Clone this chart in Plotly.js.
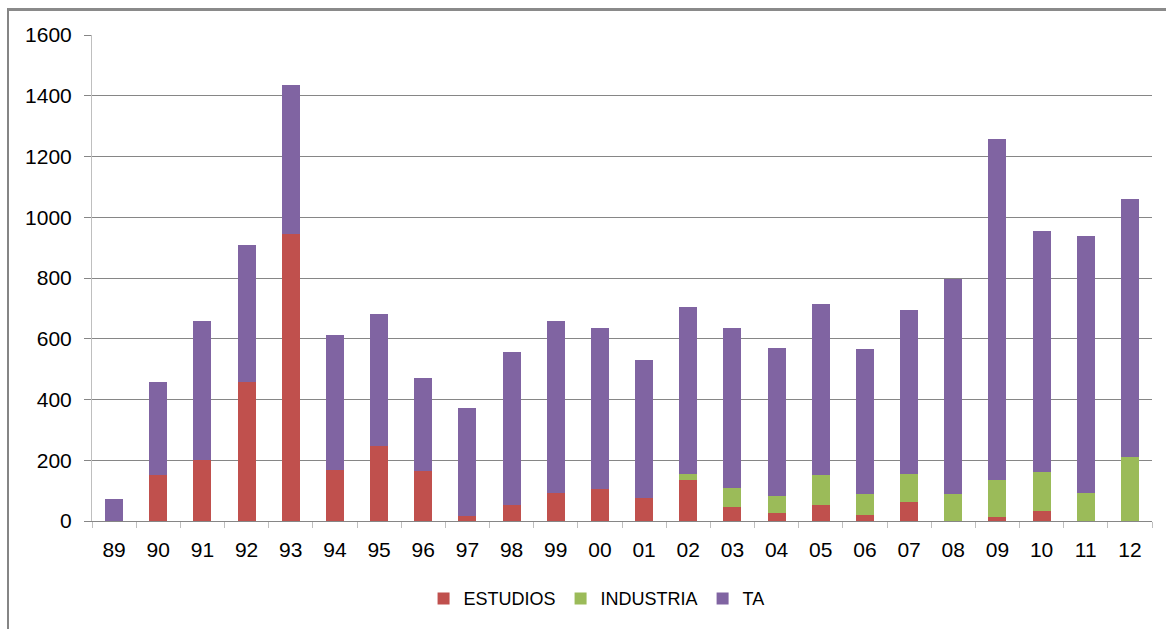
<!DOCTYPE html>
<html>
<head>
<meta charset="utf-8">
<script src="https://cdn.plot.ly/plotly-3.0.1.min.js"></script>
<style>
  html, body { margin: 0; padding: 0; background: #fff; overflow: hidden; }
  #wrap { position: relative; width: 1166px; height: 629px; }
  #chart { width: 1166px; height: 629px; }
  #frame { position: absolute; left: 7px; top: 8px; width: 2000px; height: 2000px;
           border-left: 2px solid #858585; border-top: 3px solid #8a8a8a; pointer-events: none; }
</style>
</head>
<body>
<div id="wrap">
  <div id="chart"></div>
  <div id="frame"></div>
</div>
<script>
const years = ['89','90','91','92','93','94','95','96','97','98','99','00','01','02','03','04','05','06','07','08','09','10','11','12'];
const estudios  = [0,150,200,457,944,169,248,163,18,53,93,104,77,136,45,27,53,21,64,0,14,34,0,0];
const industria = [0,0,0,0,0,0,0,0,0,0,0,0,0,20,64,56,99,68,91,89,121,128,93,211];
const ta        = [72,307,457,452,490,442,435,307,353,505,564,530,452,549,525,485,564,476,541,709,1122,793,845,849];

const colors = { estudios: '#C0504D', industria: '#9BBB59', ta: '#8064A2' };

const traces = [
  { type: 'bar', name: 'ESTUDIOS', x: years, y: estudios, marker: { color: colors.estudios } },
  { type: 'bar', name: 'INDUSTRIA', x: years, y: industria, marker: { color: colors.industria } },
  { type: 'bar', name: 'TA', x: years, y: ta, marker: { color: colors.ta } }
];

const layout = {
  width: 1166, height: 629,
  margin: { l: 92, r: 14, t: 35, b: 106 },
  paper_bgcolor: '#fff', plot_bgcolor: '#fff',
  barmode: 'stack',
  bargap: 0.59,
  font: { family: 'Liberation Sans, Arial, sans-serif', color: '#000' },
  showlegend: true,
  legend: { orientation: 'h', x: 0.476, xanchor: 'center', y: -0.16, yanchor: 'middle',
            font: { size: 18, color: '#000' }, traceorder: 'normal' },
  xaxis: {
    type: 'category',
    tickson: 'boundaries', ticks: 'outside', ticklen: 6, tickcolor: '#BFBFBF', tickwidth: 1,
    showline: true, linecolor: '#868686', linewidth: 1,
    showgrid: false, zeroline: false,
    tickfont: { size: 21, color: '#000' },
    ticklabelstandoff: 10
  },
  yaxis: {
    range: [0, 1600], tickvals: [0,200,400,600,800,1000,1200,1400,1600],
    ticks: 'outside', ticklen: 7, tickcolor: '#868686', tickwidth: 1,
    showline: true, linecolor: '#BFBFBF', linewidth: 1,
    showgrid: true, gridcolor: '#868686', gridwidth: 1,
    zeroline: false,
    tickfont: { size: 21, color: '#000' },
    ticklabelstandoff: 8
  }
};

Plotly.newPlot('chart', traces, layout, { displayModeBar: false, staticPlot: true });
</script>
</body>
</html>
